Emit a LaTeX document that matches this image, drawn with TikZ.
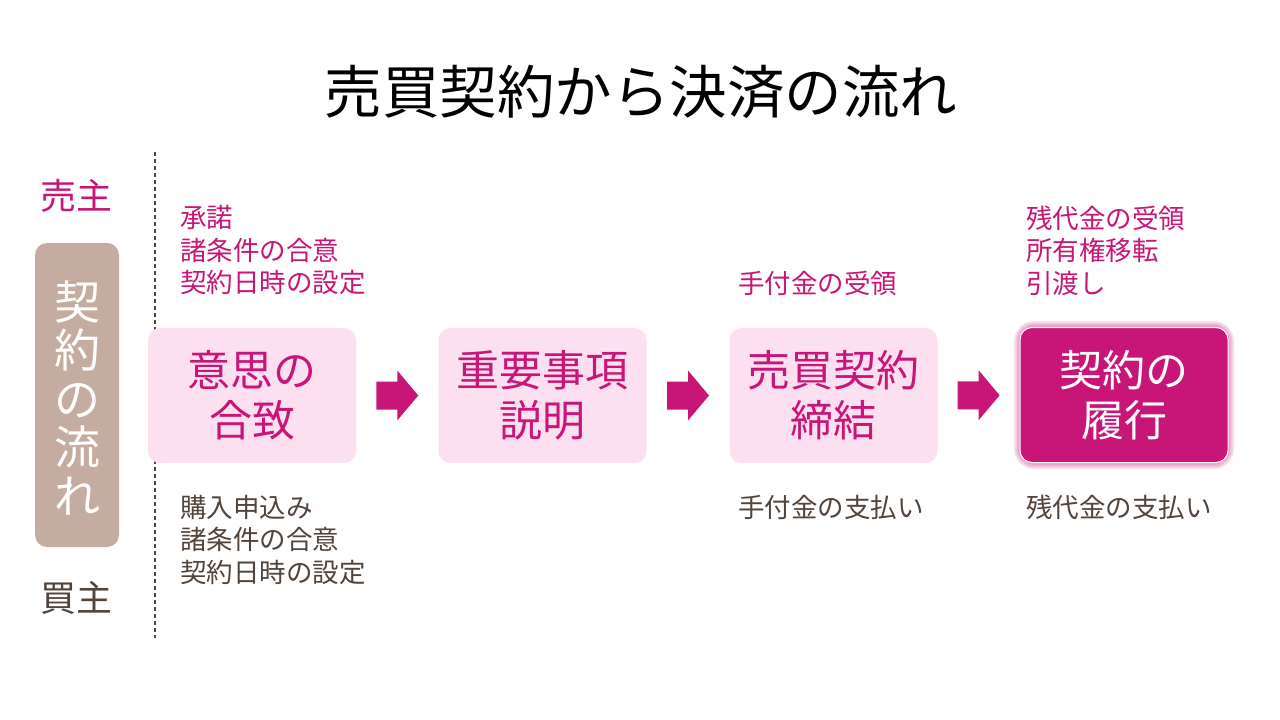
\documentclass[tikz,border=0pt]{standalone}
\usepackage{fontspec}
\setmainfont{Noto Sans CJK JP}
\usetikzlibrary{calc}
\definecolor{mag}{RGB}{200,22,120}
\definecolor{brn}{RGB}{82,68,58}
\definecolor{tan}{RGB}{196,173,160}
\definecolor{lpink}{RGB}{253,224,239}
\tikzset{
  stepbox/.style={fill=lpink, rounded corners=12pt, minimum width=208pt, minimum height=135pt, inner sep=0pt, text=mag, font=\fontsize{43}{50}\selectfont, align=center},
  note/.style={anchor=north west, inner sep=0pt, align=left, font=\fontsize{26.5}{32.5}\selectfont},
  flowarrow/.style={fill=mag, draw=none}
}
\begin{document}
\begin{tikzpicture}[x=1pt,y=-1pt]
\useasboundingbox (0,0) rectangle (1280,720);
\fill[white] (0,0) rectangle (1280,720);
% title
\node[font=\fontsize{57.5}{62}\selectfont, text=black, inner sep=0pt] (title) at (641,92) {売買契約から決済の流れ};
% dashed divider
\coordinate (dtop) at (155,152);
\coordinate (dbot) at (155,638);
\draw[brn, line width=1.2pt, dash pattern=on 4pt off 3pt] (dtop) -- (dbot);
% side labels
\node[font=\fontsize{36}{40}\selectfont, text=mag, inner sep=0pt] (seller) at (76,196) {売主};
\node[font=\fontsize{36}{40}\selectfont, text=brn, inner sep=0pt] (buyer) at (76,598) {買主};
\node[fill=tan, rounded corners=12pt, minimum width=84pt, minimum height=304pt, inner sep=0pt] (side) at (77,395) {};
\node[text=white, font=\fontsize{46}{48.5}\selectfont, align=center, inner sep=0pt] (sidetext) at (77,398) {契\\約\\の\\流\\れ};
% boxes
\node[stepbox] (b1) at (252,395.5) {意思の\\合致};
\node[stepbox] (b2) at (542.5,395.5) {重要事項\\説明};
\node[stepbox] (b3) at (833.5,395.5) {売買契約\\締結};
\foreach \w in {12,9,6,3}{
  \draw[mag, opacity=0.12, line width=\w pt, rounded corners=14pt] (1020,327) rectangle (1228,463);
}
\node[stepbox, fill=mag, draw=white, line width=1pt, text=white] (b4) at (1124,395) {契約の\\履行};
% arrows
\foreach \a/\b/\n in {b1/b2/m1, b2/b3/m2, b3/b4/m3}{
  \coordinate (\n) at ($(\a.east)!0.5!(\b.west)$);
  \fill[flowarrow] ($(\n)+(-21,-14)$) -- ($(\n)+(0,-14)$) -- ($(\n)+(0,-25)$) -- ($(\n)+(21,0)$) -- ($(\n)+(0,25)$) -- ($(\n)+(0,14)$) -- ($(\n)+(-21,14)$) -- cycle;
}
% notes
\node[note, text=mag] (n1s) at (180,205.5) {承諾\\諸条件の合意\\契約日時の設定};
\node[note, text=brn] (n1b) at (180,495) {購入申込み\\諸条件の合意\\契約日時の設定};
\node[note, text=mag] (n3s) at (738,270.5) {手付金の受領};
\node[note, text=brn] (n3b) at (738,495) {手付金の支払い};
\node[note, text=mag] (n4s) at (1026,205.5) {残代金の受領\\所有権移転\\引渡し};
\node[note, text=brn] (n4b) at (1026,495) {残代金の支払い};
\end{tikzpicture}
\end{document}
